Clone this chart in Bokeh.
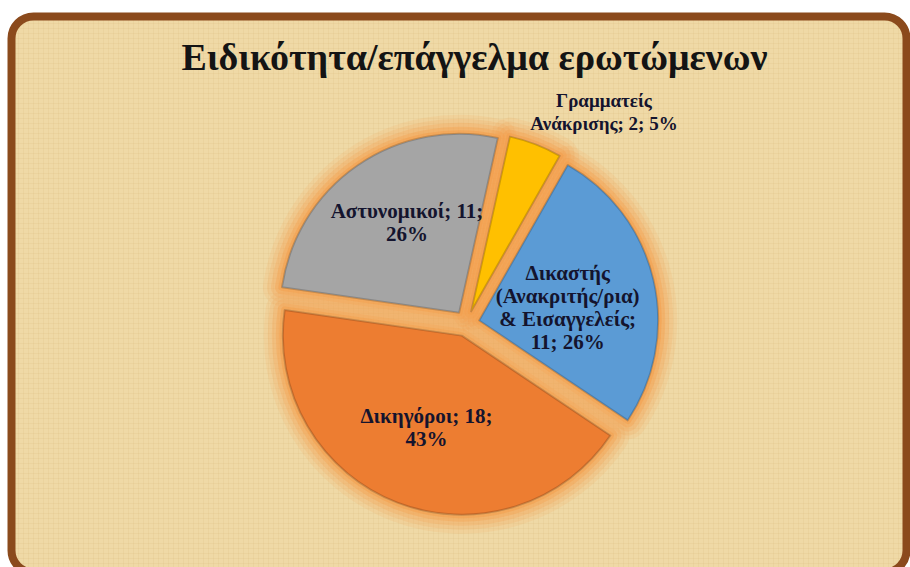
import numpy as np
from bokeh.plotting import figure
from bokeh.models import ColumnDataSource, Range1d, BoxAnnotation, Label
from bokeh.core.properties import value
from bokeh.embed import file_html
from bokeh.resources import INLINE

# ---- data ----
title_text = "Ειδικότητα/επάγγελμα ερωτώμενων"
categories = ["Γραμματείς\nΑνάκρισης",
              "Δικαστής\n(Ανακριτής/ρια)\n& Εισαγγελείς",
              "Δικηγόροι",
              "Αστυνομικοί"]
counts = [2, 11, 18, 11]
colors = ["#FFC000", "#5B9BD5", "#ED7D31", "#A5A5A5"]
sep_value = ["; ", ";\n", "; ", "; "]
sep_pct = ["; ", "; ", ";\n", ";\n"]

# ---- layout/style ----
W, H = 910, 567
CX, CY = 466, 244          # pie centre (px in plot space)
R = 179                    # radius
EXPLODE = 13
START_DEG = 77.5           # first slice starts here, slices run clockwise
label_k = [1.335, 0.50, 0.55, 0.58]
label_shift = [-12.0, -4.0, 0.0, -4.0]
label_size = ["19px", "21px", "21px", "21px"]
LINE_H = 23

vals = np.array(counts, dtype=float)
total = vals.sum()
cum = np.concatenate([[0], np.cumsum(vals)])
top_deg = START_DEG - cum[:-1] / total * 360.0
bot_deg = START_DEG - cum[1:] / total * 360.0
mid_deg = (top_deg + bot_deg) / 2.0
mid = np.radians(mid_deg)
xs = CX + EXPLODE * np.cos(mid)
ys = CY + EXPLODE * np.sin(mid)

pcts = [f"{int(round(v / total * 100))}%" for v in vals]
labels = [f"{c}{s1}{int(v)}{s2}{p}" for c, s1, v, s2, p in zip(categories, sep_value, vals, sep_pct, pcts)]
lang = np.radians(mid_deg + np.array(label_shift))
ldist = EXPLODE + np.array(label_k) * R
lx = CX + ldist * np.cos(lang)
ly = CY + ldist * np.sin(lang)

# split every label into centred lines
tx, ty, tt, ts = [], [], [], []
for x0, y0, lab, sz in zip(lx, ly, labels, label_size):
    lines = lab.split("\n")
    n = len(lines)
    for i, ln in enumerate(lines):
        tx.append(x0)
        ty.append(y0 + ((n - 1) / 2.0 - i) * LINE_H)
        tt.append(ln)
        ts.append(sz)

src = ColumnDataSource(dict(x=xs, y=ys, start=np.radians(bot_deg), end=np.radians(top_deg),
                            color=colors))
tsrc = ColumnDataSource(dict(x=tx, y=ty, text=tt, size=ts))

p = figure(width=W, height=H, x_range=Range1d(0, W), y_range=Range1d(0, H),
           output_backend="svg", toolbar_location=None, min_border=0,
           x_axis_type=None, y_axis_type=None)
p.grid.visible = False
p.outline_line_color = None
p.background_fill_color = "white"
p.border_fill_color = "white"

# papyrus panel with brown rounded frame
frame = BoxAnnotation(left=11, right=906, top=551, bottom=-5,
                      fill_color="#EFD9A6", fill_alpha=1.0,
                      line_color="#8B4A1C", line_alpha=1.0, line_width=8,
                      hatch_pattern="+", hatch_color="#D6B878", hatch_alpha=0.18,
                      hatch_scale=5, hatch_weight=1,
                      border_radius=22, level="underlay")
p.add_layout(frame)

# soft orange glow around slices
for w, a in [(38, 0.12), (30, 0.16), (22, 0.22), (14, 0.32), (7, 0.45)]:
    p.wedge(x="x", y="y", radius=R, start_angle="start", end_angle="end", source=src,
            fill_color=None, line_color="#F59C48", line_alpha=a, line_width=w,
            line_join="round")

# slices
p.wedge(x="x", y="y", radius=R, start_angle="start", end_angle="end", source=src,
        fill_color="color", line_color="#000000", line_alpha=0.18, line_width=2,
        line_join="round")

# data labels
p.text(x="x", y="y", text="text", source=tsrc, text_align="center",
       text_baseline="middle", text_font=value("Liberation Serif"),
       text_font_style="bold", text_font_size="size", text_color="#14142E")

p.add_layout(Label(x=474, y=511, text=title_text, text_align="center",
                   text_baseline="middle", text_font="Liberation Serif",
                   text_font_style="bold", text_font_size="38px",
                   text_color="#141414"))

open("out.html", "w").write(file_html(p, INLINE))
